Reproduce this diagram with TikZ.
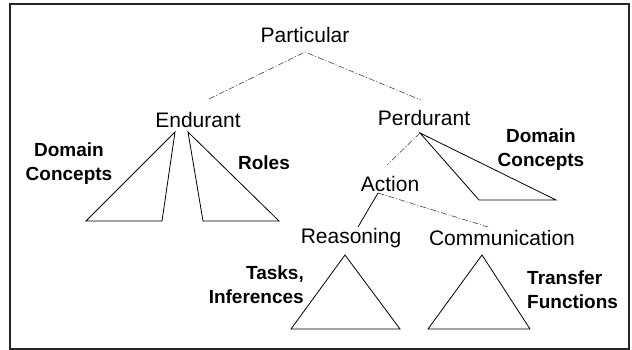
\documentclass[tikz,border=0pt]{standalone}
\usepackage{fontspec}
\setmainfont{Liberation Sans}
\begin{document}
\begin{tikzpicture}[x=1pt,y=-1pt,
  lbl/.style={inner sep=0pt,font=\fontsize{21}{25}\selectfont},
  blbl/.style={inner sep=0pt,font=\fontsize{19}{23.5}\selectfont\bfseries},
  dd/.style={draw=black!75,line width=0.6pt,dash pattern=on 6pt off 2pt on 1pt off 2pt},
  solidl/.style={draw=black,line width=0.8pt,line join=miter},
  frame/.style={draw=black!85,line width=1.2pt}]
\useasboundingbox (0,0) rectangle (632,350);
\draw[frame] (10,4) rectangle (629,349);

% text nodes
\node[lbl] (part) at (305,35) {Particular};
\node[lbl] (endu) at (198,120) {Endurant};
\node[lbl] (perd) at (424,118) {Perdurant};
\node[lbl] (act) at (390,184) {Action};
\node[lbl] (reas) at (351,238) {Reasoning};
\node[lbl] (comm) at (502,238) {Communication};

\node[blbl,align=center] (dcl) at (69,163.5) {Domain\\Concepts};
\node[blbl] (roles) at (264,163) {Roles};
\node[blbl,align=center] (dcr) at (541,149.5) {Domain\\Concepts};
\node[blbl,align=right,anchor=east] (tasks) at (304,284.5) {Tasks,\\Inferences};
\node[blbl,align=left,anchor=west] (transf) at (527,289.5) {Transfer\\Functions};

% connector points
\coordinate (pA) at (305,52);
\coordinate (eT) at (209,99);
\coordinate (pT) at (421,100);
\coordinate (perdA) at (420,133);
\coordinate (actT) at (387,165);
\coordinate (actA) at (378,193);
\coordinate (reasT) at (358,227);
\coordinate (commT) at (488,227);

\draw[dd] (eT) -- (pA) -- (pT);
\draw[dd] (perdA) -- (actT);
\draw[dd] (actA) -- (commT);
\draw[solidl] (actA) -- (reasT);

% triangles
\coordinate (e1a) at (175,132);
\coordinate (e1b) at (86,221);
\coordinate (e1c) at (162,221);
\draw[solidl] (e1a) -- (e1b) -- (e1c) -- cycle;
\coordinate (e2a) at (188,132);
\coordinate (e2b) at (203,221);
\coordinate (e2c) at (279,221);
\draw[solidl] (e2a) -- (e2b) -- (e2c) -- cycle;
\coordinate (p1b) at (479,200);
\coordinate (p1c) at (556,200);
\draw[solidl] (perdA) -- (p1b) -- (p1c) -- cycle;
\coordinate (r1a) at (345,255);
\coordinate (r1b) at (291,329);
\coordinate (r1c) at (400,329);
\draw[solidl] (r1a) -- (r1b) -- (r1c) -- cycle;
\coordinate (c1a) at (482,255);
\coordinate (c1b) at (428,329);
\coordinate (c1c) at (530,329);
\draw[solidl] (c1a) -- (c1b) -- (c1c) -- cycle;
\end{tikzpicture}
\end{document}
